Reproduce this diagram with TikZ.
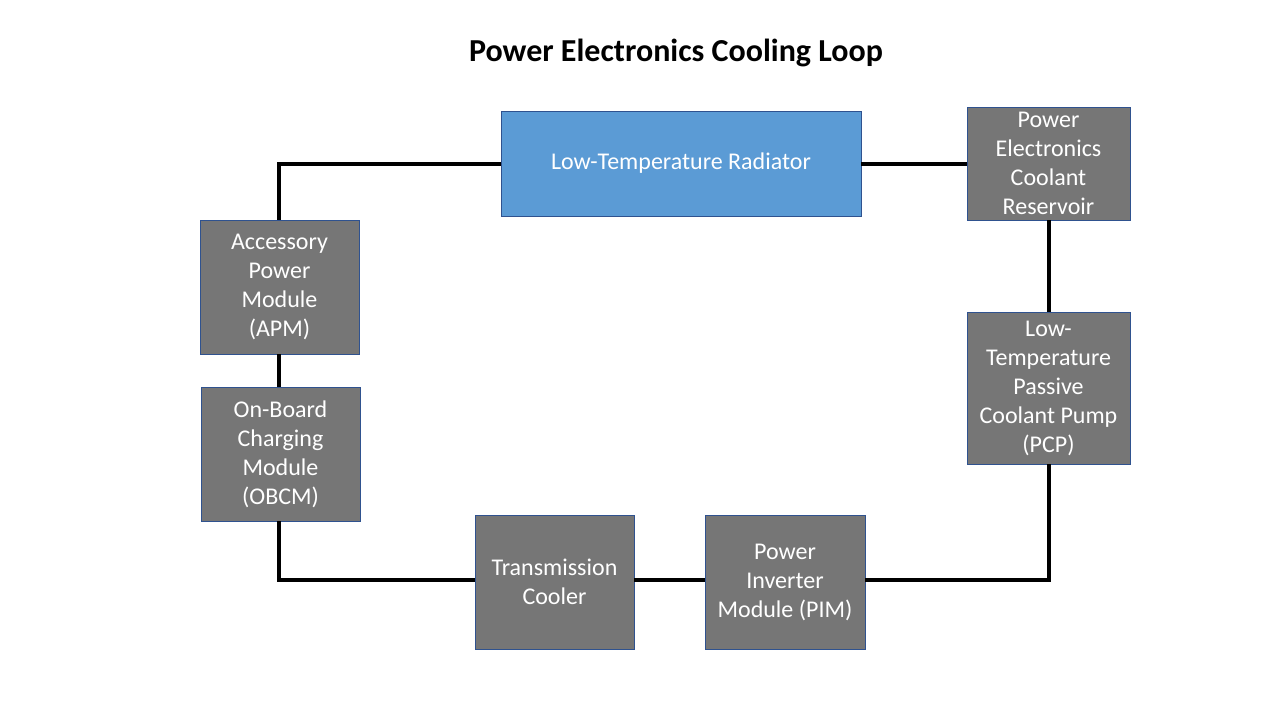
\documentclass[tikz,border=0pt]{standalone}
\usepackage{fontspec}
\setmainfont{Carlito}
\usetikzlibrary{positioning}
\definecolor{boxgray}{RGB}{118,118,118}
\definecolor{boxedge}{RGB}{47,82,143}
\definecolor{radblue}{RGB}{91,155,213}
\tikzset{
    unitbox/.style={draw=boxedge, line width=0.8pt, fill=boxgray, text=white, align=center,
        inner sep=0pt, font=\fontsize{24}{29}\selectfont},
    radbox/.style={unitbox, fill=radblue},
    pipe/.style={line width=3.5pt, black}
}
\begin{document}
\begin{tikzpicture}[x=1pt, y=-1pt]
    \useasboundingbox (0,0) rectangle (1280,720);

    % Title
    \node[font=\fontsize{32}{38}\selectfont\bfseries] (title) at (676,53) {Power Electronics Cooling Loop};

    % Draw the units
    \node[radbox, minimum width=360pt, minimum height=105pt] (rad) at (681,163.5) {Low-Temperature Radiator};
    \node[unitbox, minimum width=163pt, minimum height=113pt] (res) at (1048.5,163.5) {Power\\Electronics\\Coolant\\Reservoir};
    \node[unitbox, minimum width=163pt, minimum height=152pt] (pcp) at (1048.5,388) {Low-\\Temperature\\Passive\\Coolant Pump\\(PCP)};
    \node[unitbox, minimum width=160pt, minimum height=134pt] (pim) at (785,582) {Power\\Inverter\\Module (PIM)};
    \node[unitbox, minimum width=159pt, minimum height=134pt] (tc) at (554.5,582) {Transmission\\Cooler};
    \node[unitbox, minimum width=159pt, minimum height=134pt] (obcm) at (280.5,454) {On-Board\\Charging\\Module\\(OBCM)};
    \node[unitbox, minimum width=159pt, minimum height=134pt] (apm) at (279.5,287) {Accessory\\Power\\Module\\(APM)};

    % Corners of the loop
    \coordinate (tl) at (279,164);
    \coordinate (bl) at (279,580);
    \coordinate (br) at (1049,580);

    % Draw the pipes
    \draw[pipe] (apm.north -| tl) -- (tl) -- (rad.west |- tl);
    \draw[pipe] (rad.east |- tl) -- (res.west |- tl);
    \draw[pipe] (res.south -| br) -- (pcp.north -| br);
    \draw[pipe] (pcp.south -| br) -- (br) -- (pim.east |- br);
    \draw[pipe] (pim.west |- br) -- (tc.east |- br);
    \draw[pipe] (tc.west |- bl) -- (bl) -- (obcm.south -| bl);
    \draw[pipe] (obcm.north -| bl) -- (apm.south -| bl);
\end{tikzpicture}
\end{document}
